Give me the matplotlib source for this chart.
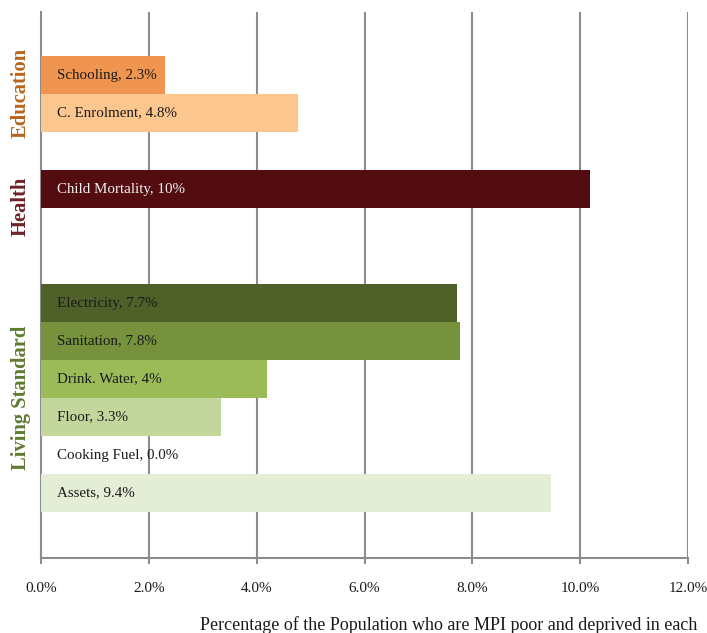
import matplotlib
matplotlib.use("Agg")
import matplotlib.pyplot as plt
from matplotlib.ticker import FuncFormatter

labels = ["Schooling, 2.3%", "C. Enrolment, 4.8%", "Child Mortality, 10%",
          "Electricity, 7.7%", "Sanitation, 7.8%", "Drink. Water, 4%",
          "Floor, 3.3%", "Cooking Fuel, 0.0%", "Assets, 9.4%"]
values = [2.30, 4.77, 10.19, 7.72, 7.77, 4.19, 3.34, 0.0, 9.46]
rows = [0, 1, 3, 6, 7, 8, 9, 10, 11]
colors = ["#F0954F", "#FCC68F", "#530D10", "#4F6128", "#76923C", "#9BBB59",
          "#C3D69B", "#FFFFFF", "#E4EDD6"]
text_colors = ["#1a1a1a", "#1a1a1a", "#F2F2F2", "#1a1a1a", "#1a1a1a", "#1a1a1a",
               "#1a1a1a", "#1a1a1a", "#1a1a1a"]
groups = ["Education", "Health", "Living Standard"]
group_centers = [0.47, 3.45, 8.5]
group_colors = ["#B8651E", "#6B2226", "#5F7A31"]
xticks = [0, 2, 4, 6, 8, 10, 12]

serif = ["Liberation Serif", "DejaVu Serif"]
plt.rcParams["font.family"] = serif

fig = plt.figure(figsize=(7.07, 6.33), dpi=100)
ax = fig.add_axes([41/707, 1-558/633, (688-41)/707, (558-12)/633])

ax.barh(rows, values, height=1.0, color=colors, zorder=3)
for r, lab, tc in zip(rows, labels, text_colors):
    ax.text(0.3, r, lab, va="center", ha="left", fontsize=10.8, color=tc, zorder=4)

ax.set_xlim(0, 12)
ax.set_ylim(12.71, -1.66)
ax.set_xticks(xticks)
ax.xaxis.set_major_formatter(FuncFormatter(lambda v, p: f"{v:.1f}%"))
ax.set_yticks([])
ax.grid(axis="x", color="#8C8C8C", linewidth=1.5, zorder=1)
for s in ["top", "right"]:
    ax.spines[s].set_visible(False)
for s in ["left", "bottom"]:
    ax.spines[s].set_color("#8C8C8C")
    ax.spines[s].set_linewidth(1.5)
ax.tick_params(axis="x", length=4, width=1.5, color="#8C8C8C", labelsize=11,
               pad=13, labelcolor="#1a1a1a")

for g, c, col in zip(groups, group_centers, group_colors):
    ax.text(-0.37, c, g, rotation=90, va="center", ha="center", fontsize=14.8,
            fontweight="bold", color=col, transform=ax.transData, clip_on=False)

fig.text(697/707, 1-625/633, "Percentage of the Population who are MPI poor and deprived in each",
         ha="right", va="center", fontsize=13, color="#1a1a1a")

fig.savefig("out.png", dpi=100)
